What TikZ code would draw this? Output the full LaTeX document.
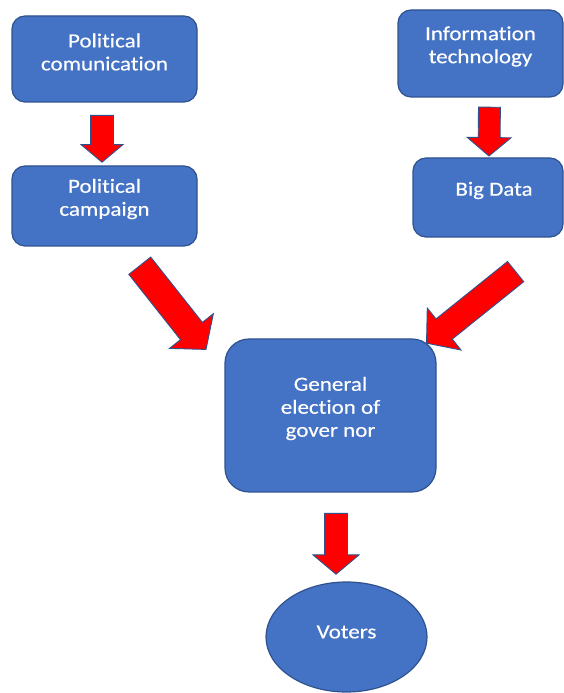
\documentclass[tikz,border=0pt]{standalone}
\usepackage{fontspec}
\setmainfont{Carlito}[FakeStretch=1.15,FakeBold=0.4,Ligatures=NoCommon]
\usetikzlibrary{
    calc, % for the end points of the fat arrows
    shapes.arrows, % for the red block arrows
    shapes.geometric % for the ellipse
}
\definecolor{boxblue}{HTML}{4472C4}
\definecolor{boxline}{HTML}{2F528F}

% fat arrow from #1 to #2, shaft width #3, head width #4
\newcommand{\fatarrow}[4]{%
    \path let \p1=($(#2)-(#1)$), \n1={atan2(\y1,\x1)}, \n2={veclen(\x1,\y1)} in
        node [fat arrow,rotate=\n1,minimum height=\n2,inner ysep=#3/2,
              single arrow head extend=(#4-#3)/2] at ($(#1)!0.5!(#2)$) {};}

\begin{document}
\begin{tikzpicture}[
    x=1pt,y=1pt,
    box/.style       = {rectangle,rounded corners=13,draw=boxline,line width=1.2,fill=boxblue,inner sep=0},
    voter/.style     = {ellipse,draw=boxline,line width=1.2,fill=boxblue,inner sep=0},
    box text/.style  = {text=white,font=\fontsize{20}{23}\selectfont,align=center,yshift=7},
    fat arrow/.style = {single arrow,draw=boxline,line width=0.9,fill=red,inner xsep=0,
                        single arrow tip angle=100}
]
\path [fill=white,use as bounding box] (0,0) rectangle (564,693);

% left branch
    \node [box,minimum width=185,minimum height=86] (comm) at (104.5,634)
        [label={[box text]center:{Political\\comunication}}] {};
    \node [box,minimum width=185,minimum height=80] (camp) at (104.5,487)
        [label={[box text]center:{Political\\campaign}}] {};

% right branch
    \node [box,minimum width=165,minimum height=87] (it) at (480.5,639.5)
        [label={[box text]center:{Information\\technology}}] {};
    \node [box,minimum width=150,minimum height=79] (bigdata) at (488,495.5)
        [label={[box text,xshift=6]center:{Big Data}}] {};

% election and voters
    \node [box,rounded corners=24,minimum width=211,minimum height=153] (elect) at (330.5,277.5)
        [label={[box text]center:{General\\election of\\gover nor}}] {};
    \node [voter,minimum width=161,minimum height=110] (voters) at (346.5,56)
        [label={[box text,yshift=-2]center:{Voters}}] {};

% arrows
    \coordinate (a1s) at ($(comm.south)+(-2.5,-8)$);
    \coordinate (a1e) at ($(camp.north)+(-2.5,8)$);
    \coordinate (a2s) at ($(it.south)+(9,-5)$);
    \coordinate (a2e) at ($(bigdata.north)+(1,6)$);
    \coordinate (a3s) at ($(elect.south)+(5.5,-16)$);
    \coordinate (a3e) at ($(voters.north)+(-10.5,12)$);
    \coordinate (a4s) at ($(camp.south east)+(-61.5,-14.5)$);
    \coordinate (a4e) at ($(elect.north west)+(-22,-6.5)$);
    \coordinate (a5s) at ($(bigdata.south)+(32,-30.5)$);
    \coordinate (a5e) at ($(elect.north east)+(-6,-1.5)$);

    \fatarrow{a1s}{a1e}{22}{41}
    \fatarrow{a2s}{a2e}{21}{43}
    \fatarrow{a3s}{a3e}{22}{45}
    \fatarrow{a4s}{a4e}{27}{55}
    \fatarrow{a5s}{a5e}{25}{53}

\end{tikzpicture}
\end{document}
